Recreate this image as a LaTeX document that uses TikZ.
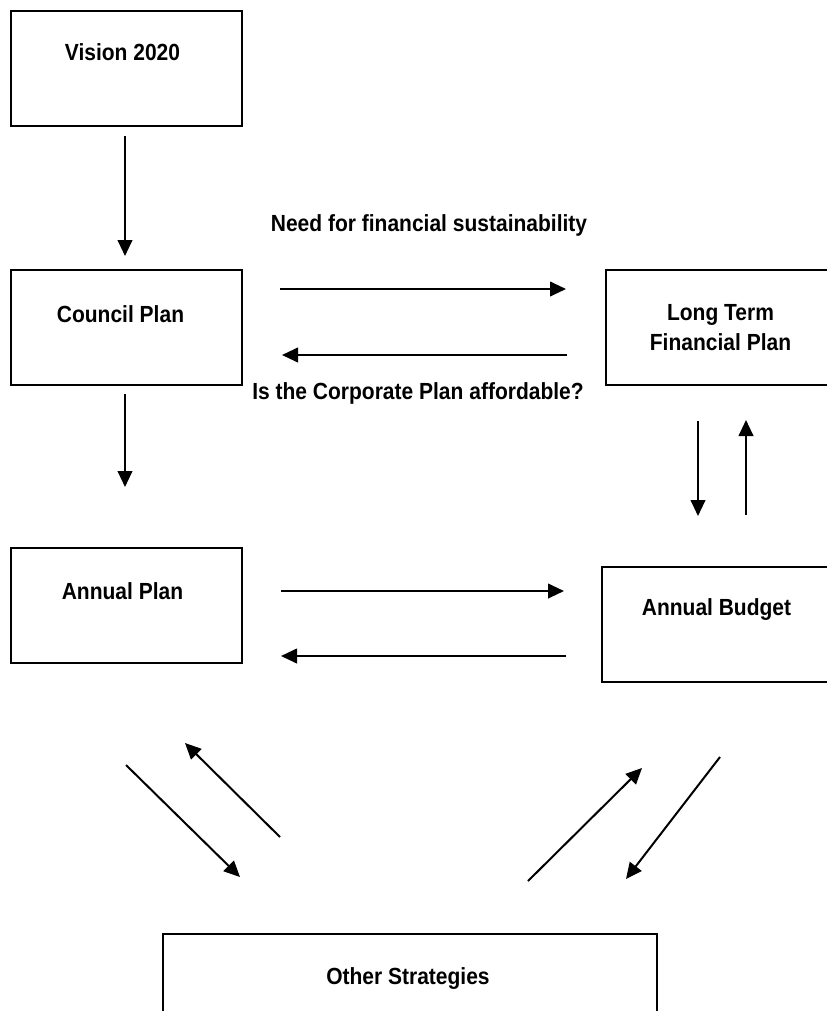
\documentclass[tikz,border=0pt]{standalone}
\usepackage{fontspec}
\setmainfont{Liberation Sans}[FakeStretch=0.9]
\usepackage{tikz}
\usetikzlibrary{arrows.meta,calc,positioning}

\begin{document}
\begin{tikzpicture}[x=0.75pt, y=-0.75pt, line width=1.5pt,
  box/.style={draw, rectangle, minimum width=173.25pt, minimum height=86.25pt, inner sep=0pt},
  txt/.style={font=\fontsize{17.5pt}{22.5pt}\selectfont\bfseries, align=center, inner sep=0pt},
  arr/.style={-{Triangle[length=12pt, width=11pt]}}]
  \clip (0,0) rectangle (827,1011);
  % Boxes
  \node[box] (vision) at (126.5,68.5) {};
  \node[box] (council) at (126.5,327.5) {};
  \node[box] (annplan) at (126.5,605.5) {};
  \node[box] (ltfp) at (721.5,327.5) {};
  \node[box] (budget) at (717.5,624.5) {};
  \node[box, minimum width=370.5pt] (other) at (410,991.5) {};
  % Box texts
  \node[txt] (visiontxt) at ($(vision.north)+(-4,42)$) {Vision 2020};
  \node[txt] (counciltxt) at ($(council.north)+(-6,45)$) {Council Plan};
  \node[txt] (annplantxt) at ($(annplan.north)+(-4,44)$) {Annual Plan};
  \node[txt] (ltfptxt) at ($(ltfp.north)+(-1,59)$) {Long Term\\Financial Plan};
  \node[txt] (budgettxt) at ($(budget.north)+(-1,44)$) {Annual Budget};
  \node[txt] (othertxt) at ($(other.north)+(-2,46)$) {Other Strategies};
  % Labels
  \node[txt] (needlbl) at (429,225) {Need for financial sustainability};
  \node[txt] (affordlbl) at (418,393) {Is the Corporate Plan affordable?};
  % Arrows
  \draw[arr] ($(vision.south)+(-1.5,9)$) -- ($(council.north)+(-1.5,-13)$);
  \draw[arr] ($(council.east)+(37,-38.5)$) -- ($(ltfp.west)+(-39,-38.5)$);
  \draw[arr] ($(ltfp.west)+(-38,27.5)$) -- ($(council.east)+(39,27.5)$);
  \draw[arr] ($(council.south)+(-1.5,8)$) -- ($(annplan.north)+(-1.5,-60)$);
  \draw[arr] ($(ltfp.south)+(-23.5,35)$) -- ($(budget.north)+(-19.5,-50)$);
  \draw[arr] ($(budget.north)+(28.5,-51)$) -- ($(ltfp.south)+(24.5,34)$);
  \draw[arr] ($(annplan.east)+(38,-14.5)$) -- ($(budget.west)+(-37,-33.5)$);
  \draw[arr] ($(budget.west)+(-35,31.5)$) -- ($(annplan.east)+(38,50.5)$);
  \draw[arr] ($(annplan.south)+(-0.5,101)$) -- ($(other.north)+(-170,-56)$);
  \draw[arr] ($(other.north)+(-130,-96)$) -- ($(annplan.south)+(58.5,79)$);
  \draw[arr] ($(other.north)+(118,-52)$) -- ($(budget.south)+(-75.5,85)$);
  \draw[arr] ($(budget.south)+(2.5,74)$) -- ($(other.north)+(216,-54)$);
\end{tikzpicture}
\end{document}
